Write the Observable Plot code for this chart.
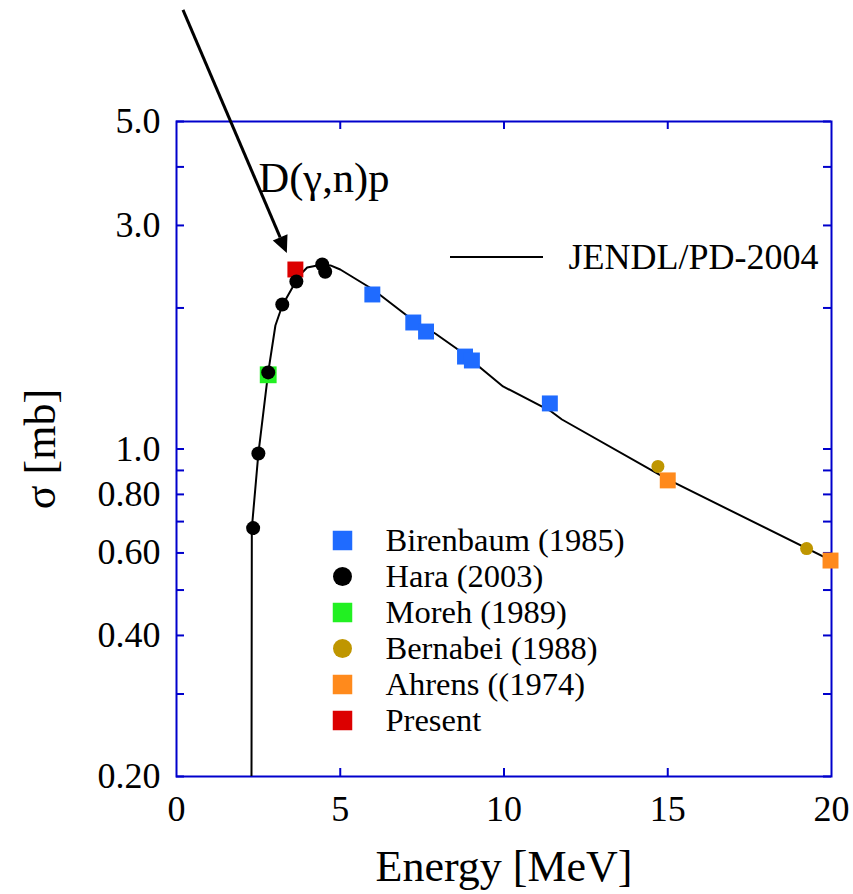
<!DOCTYPE html>
<html><head><meta charset="utf-8">
<script src="https://cdn.jsdelivr.net/npm/d3@7"></script>
<script src="https://cdn.jsdelivr.net/npm/@observablehq/plot@0.6"></script>
<style>body{margin:0;background:#fff} svg text{font-family:'Liberation Serif','Times New Roman',serif;}</style>
</head><body><div id="chart"></div>
<script>
// ---- data ----
const birenbaumE = [5.98, 7.23, 7.62, 8.81, 9.02, 11.40];
const birenbaumS = [2.137, 1.862, 1.781, 1.575, 1.545, 1.251];
const haraE = [2.34, 2.50, 2.80, 3.23, 3.66, 4.45, 4.54];
const haraS = [0.678, 0.978, 1.457, 2.034, 2.278, 2.477, 2.39];
const morehE = [2.80];
const morehS = [1.44];
const bernabeiE = [14.70, 19.24];
const bernabeiS = [0.918, 0.613];
const ahrensE = [15.0, 19.97];
const ahrensS = [0.857, 0.578];
const presentE = [3.63];
const presentS = [2.416];
const jendlE = [2.29, 2.30, 2.50, 2.80, 3.02, 3.23, 3.54, 3.69, 3.99, 4.30, 4.70, 5.00, 6.00, 7.23, 7.90, 8.81, 9.27, 9.97, 11.40, 11.77, 15.0, 20.0];
const jendlS = [0.2, 0.677, 0.978, 1.457, 1.835, 2.024, 2.212, 2.323, 2.440, 2.465, 2.465, 2.416, 2.190, 1.881, 1.764, 1.591, 1.493, 1.360, 1.208, 1.156, 0.861, 0.578];
const arrowFrom = [0.213, 8.63];
const arrowTo = [3.384, 2.614];

const xTickValues = [0, 5, 10, 15, 20];
const xTickLabels = ["0", "5", "10", "15", "20"];
const yLabelValues = [5, 3, 1, 0.8, 0.6, 0.4, 0.2];
const yTickLabels = ["5.0", "3.0", "1.0", "0.80", "0.60", "0.40", "0.20"];
const yMinorTicks = [0.2, 0.3, 0.4, 0.5, 0.6, 0.7, 0.8, 0.9, 1, 2, 3, 4, 5];
const xMinorTicks = [5, 10, 15];

const seriesNames = ["Birenbaum (1985)", "Hara (2003)", "Moreh (1989)", "Bernabei (1988)", "Ahrens ((1974)", "Present"];
const seriesColors = ["#1f6bff", "#000000", "#22f022", "#bf9600", "#ff8a1c", "#dc0000"];
const seriesSymbols = ["square", "circle", "square", "circle", "square", "square"];

// ---- layout ----
const W = 853, H = 894;
const mL = 176, mR = 22, mT = 121, mB = 118;
const frameW = W - mL - mR, frameH = H - mT - mB;
const tickLen = 8;
const blue = "#0000cc";
const font = "'Liberation Serif', 'Times New Roman', serif";

const toRows = (E, S) => E.map((e, i) => ({E: e, S: S[i]}));
const jendl = toRows(jendlE, jendlS);
const yLabelMap = new Map(yLabelValues.map((v, i) => [v, yTickLabels[i]]));
const xLabelMap = new Map(xTickValues.map((v, i) => [v, xTickLabels[i]]));

function pts(E, S, k, r) {
  return Plot.dot(toRows(E, S), {x: "E", y: "S", symbol: seriesSymbols[k], fill: seriesColors[k], r, clip: false});
}

const legendMarks = seriesNames.flatMap((name, i) => [
  Plot.dot([name], {frameAnchor: "top-left", dx: 166, dy: 419 + 36 * i, symbol: seriesSymbols[i], fill: seriesColors[i], r: seriesSymbols[i] === "square" ? 11 : 9.5}),
  Plot.text([name], {frameAnchor: "top-left", dx: 209, dy: 419 + 36 * i, text: d => d, textAnchor: "start", lineAnchor: "middle", fontSize: 32.5, fontFamily: font, fill: "black"})
]);

const plot = Plot.plot({
  width: W, height: H,
  marginLeft: mL, marginRight: mR, marginTop: mT, marginBottom: mB,
  style: `font-family: ${font}; background: white; overflow: visible;`,
  x: {domain: [0, 20]},
  y: {type: "log", domain: [0.2, 5]},
  marks: [
    Plot.frame({stroke: blue, strokeWidth: 2}),
    Plot.tickY(yMinorTicks, {y: d => d, stroke: blue, strokeWidth: 2, insetRight: frameW - tickLen}),
    Plot.tickY(yMinorTicks, {y: d => d, stroke: blue, strokeWidth: 2, insetLeft: frameW - tickLen}),
    Plot.tickX(xMinorTicks, {x: d => d, stroke: blue, strokeWidth: 2, insetTop: frameH - tickLen}),
    Plot.tickX(xMinorTicks, {x: d => d, stroke: blue, strokeWidth: 2, insetBottom: frameH - tickLen}),
    Plot.axisY(yLabelValues, {tickSize: 0, tickPadding: 16, tickFormat: d => yLabelMap.get(d), fontSize: 36, fontFamily: font, label: null}),
    Plot.axisX(xTickValues, {tickSize: 0, tickPadding: 19, tickFormat: d => xLabelMap.get(d), fontSize: 36, fontFamily: font, label: null}),
    Plot.line(jendl, {x: "E", y: "S", stroke: "black", strokeWidth: 2, clip: true}),
    pts(birenbaumE, birenbaumS, 0, 9),
    pts(morehE, morehS, 2, 9.5),
    pts(bernabeiE, bernabeiS, 3, 6.5),
    pts(ahrensE, ahrensS, 4, 9),
    pts(presentE, presentS, 5, 9),
    pts(haraE, haraS, 1, 7),
    // arrow annotation
    (index, scales) => {
      const x1 = scales.x(arrowFrom[0]), y1 = scales.y(arrowFrom[1]);
      const x2 = scales.x(arrowTo[0]), y2 = scales.y(arrowTo[1]);
      const a = Math.atan2(y2 - y1, x2 - x1);
      const L = 17, hw = 8;
      const bx = x2 - L * Math.cos(a), by = y2 - L * Math.sin(a);
      const g = d3.create("svg:g");
      g.append("line").attr("x1", x1).attr("y1", y1).attr("x2", bx).attr("y2", by)
        .attr("stroke", "black").attr("stroke-width", 3);
      g.append("polygon").attr("points", [
        [x2, y2],
        [bx + hw * Math.sin(a), by - hw * Math.cos(a)],
        [bx - hw * Math.sin(a), by + hw * Math.cos(a)]
      ].map(p => p.join(",")).join(" ")).attr("fill", "black");
      return g.node();
    },
    // JENDL legend line
    () => d3.create("svg:line").attr("x1", 450).attr("x2", 543).attr("y1", 257).attr("y2", 257)
      .attr("stroke", "black").attr("stroke-width", 2).node(),
    Plot.text(["JENDL/PD-2004"], {frameAnchor: "top-left", dx: 392, dy: 136, text: d => d, textAnchor: "start", lineAnchor: "middle", fontSize: 36, fontFamily: font, fill: "black"}),
    Plot.text(["D(γ,n)p"], {frameAnchor: "top-left", dx: 82, dy: 70, text: d => d, textAnchor: "start", lineAnchor: "bottom", fontSize: 42.5, fontFamily: font, fill: "black"}),
    Plot.text(["σ [mb]"], {frameAnchor: "left", dx: -136, rotate: -90, text: d => d, textAnchor: "middle", lineAnchor: "middle", fontSize: 44, fontFamily: font, fill: "black"}),
    Plot.text(["Energy [MeV]"], {frameAnchor: "bottom", dy: 104, text: d => d, textAnchor: "middle", lineAnchor: "bottom", fontSize: 44, fontFamily: font, fill: "black"}),
    ...legendMarks
  ]
});
document.getElementById("chart").appendChild(plot);
</script>
</body></html>
